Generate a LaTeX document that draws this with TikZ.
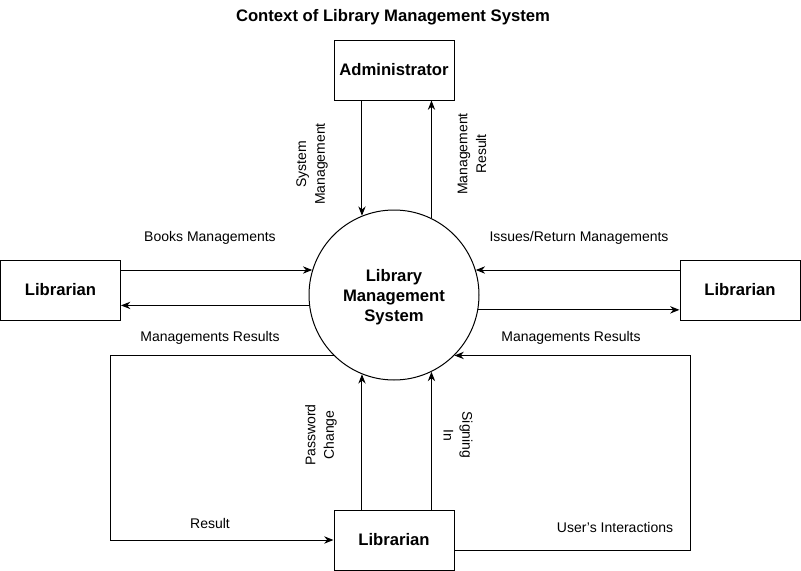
\documentclass[tikz,border=0pt]{standalone}
\usepackage{fontspec}
\setmainfont{Liberation Sans}
\usetikzlibrary{arrows.meta}
\begin{document}
\begin{tikzpicture}[x=0.75pt,y=-0.75pt,
  every path/.style={line width=0.75pt},
  entity/.style={draw,line width=0.75pt,minimum width=90pt,minimum height=45pt,inner sep=0pt,font=\fontsize{12.5}{15}\selectfont\bfseries},
  proc/.style={draw,circle,line width=0.75pt,minimum size=127.5pt,inner sep=0pt,align=center,font=\fontsize{12.5}{15}\selectfont\bfseries},
  lbl/.style={inner sep=0pt,align=center,font=\fontsize{10.5}{14}\selectfont},
  arr/.style={-{Stealth[length=7pt,width=5.5pt]}}]
\useasboundingbox (0,0) rectangle (801,571);
\node[inner sep=0pt,font=\fontsize{12.5}{15}\selectfont\bfseries] (title) at (393,17) {Context of Library Management System};
\node[entity] (admin) at (394,70) {Administrator};
\node[entity] (libL) at (60.5,290) {Librarian};
\node[entity] (libR) at (740,290) {Librarian};
\node[entity] (libB) at (394,540) {Librarian};
\node[proc] (sys) at (394,295) {};
\node[inner sep=0pt,align=center,font=\fontsize{12.5}{15}\selectfont\bfseries] (systxt) at (394,297) {Library\\Management\\System};
% admin
\draw[arr] (sys.112 |- admin.south) -- (sys.112);
\draw[arr] (sys.64) -- (sys.64 |- admin.south);
% left
\draw[arr] (libL.east |- sys.163) -- (sys.163);
\draw[arr] (sys.187) -- (libL.east |- sys.187);
% right
\draw[arr] (libR.west |- sys.17) -- (sys.17);
\draw[arr] (sys.-10) -- (libR.west |- sys.-10);
% bottom
\draw[arr] (sys.248 |- libB.north) -- (sys.248);
\draw[arr] (sys.296 |- libB.north) -- (sys.296);
% loops
\coordinate (lc) at (110,540);
\draw[arr] (sys.225) -| (lc) -- (libB.west);
\coordinate (rc) at (690,0);
\draw[arr] ([yshift=-7.5pt]libB.east) -| (rc |- sys.315) -- (sys.315);
% labels
\node[lbl,rotate=90] (l1) at (312,164) {System\\Management};
\node[lbl,rotate=90] (l2) at (472,154) {Management\\Result};
\node[lbl] (l3) at (210,237.5) {Books Managements};
\node[lbl] (l4) at (210,337.5) {Managements Results};
\node[lbl] (l5) at (579,237.5) {Issues/Return Managements};
\node[lbl] (l6) at (571,337.5) {Managements Results};
\node[lbl,rotate=90] (l7) at (321,435) {Password\\Change};
\node[lbl,rotate=-90] (l8) at (458,435) {Signing\\In};
\node[lbl] (l9) at (210,523.5) {Result};
\node[lbl] (l10) at (615,527.5) {User{\char"27}s Interactions};
\end{tikzpicture}
\end{document}
